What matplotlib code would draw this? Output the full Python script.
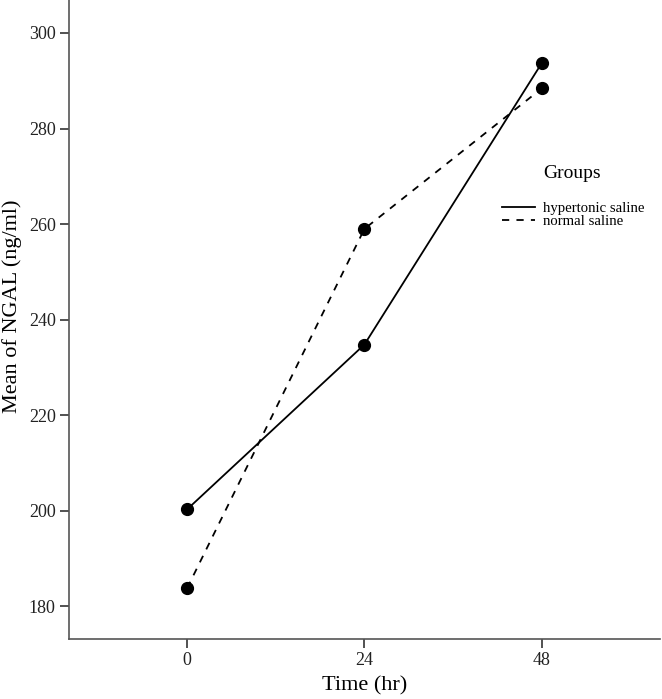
import numpy as np
import matplotlib
matplotlib.use("Agg")
import matplotlib.pyplot as plt

# data
time_hr = [0, 24, 48]
hypertonic = [200.3, 234.8, 293.7]
normal = [183.8, 259.0, 288.4]
y_ticks = [180, 200, 220, 240, 260, 280, 300]

plt.rcParams['font.family'] = ['Liberation Serif', 'DejaVu Serif']

fig = plt.figure(figsize=(6.62, 6.99), dpi=100)
ax = fig.add_axes([0.104, 0.086, 0.893, 0.914])

l1, = ax.plot(time_hr, hypertonic, '-', color='black', lw=1.3)
l2, = ax.plot(time_hr, normal, '--', color='black', lw=1.3, dashes=(4, 4))
ax.plot(time_hr, hypertonic, 'o', color='black', ms=8.5)
ax.plot(time_hr, normal, 'o', color='black', ms=8.5)

ax.set_xlim(-16, 64)
ax.set_ylim(173.2, 306.9)
ax.set_xticks(time_hr)
ax.set_yticks(y_ticks)
ax.tick_params(axis='both', labelsize=13, color='#333333', width=1.2,
               length=6.5, direction='out', labelcolor='#222222', pad=3)

for s in ['top', 'right']:
    ax.spines[s].set_visible(False)
for s in ['left', 'bottom']:
    ax.spines[s].set_color('#555555')
    ax.spines[s].set_linewidth(1.2)

ax.set_xlabel('Time (hr)', fontsize=16, labelpad=5)
ax.set_ylabel('Mean of NGAL (ng/ml)', fontsize=16)
ax.yaxis.set_label_coords(-0.08, 0.52)

ax.text(0.802, 0.729, 'Groups', transform=ax.transAxes, fontsize=14,
        ha='left', va='center')
ax.legend([l1, l2], ['hypertonic saline', 'normal saline'],
          loc='upper left', bbox_to_anchor=(0.733, 0.684), frameon=False,
          fontsize=10.6, borderaxespad=0, borderpad=0, handlelength=2.2,
          handletextpad=0.55, labelspacing=-0.05)

fig.savefig('out.png', dpi=100)
